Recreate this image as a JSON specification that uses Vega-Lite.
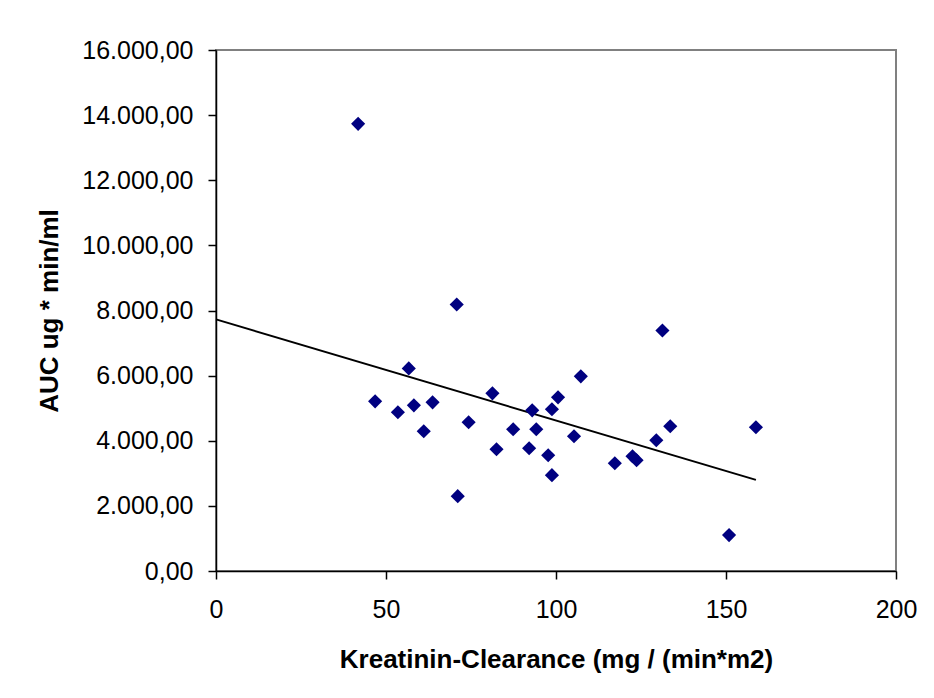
{
  "$schema": "https://vega.github.io/schema/vega-lite/v6.json",
  "width": 680,
  "height": 521,
  "autosize": {"type": "none"},
  "padding": {"left": 216, "top": 50, "right": 38, "bottom": 127},
  "background": "white",
  "config": {
    "locale": {"number": {"decimal": ",", "thousands": ".", "grouping": [3], "currency": ["", " €"]}},
    "font": "Liberation Sans",
    "view": {"stroke": "#808080", "strokeWidth": 2},
    "axis": {
      "grid": false,
      "labelFlush": false,
      "domainColor": "black",
      "domainWidth": 1.5,
      "tickColor": "black",
      "tickWidth": 1.5,
      "tickSize": 8,
      "labelFont": "Liberation Sans",
      "labelFontSize": 25,
      "labelColor": "black",
      "titleFont": "Liberation Sans",
      "titleFontSize": 26,
      "titleFontWeight": "bold",
      "titleColor": "black"
    }
  },
  "data": {
    "values": [
      {"clearance": 41.8, "auc": 13732},
      {"clearance": 46.8, "auc": 5211},
      {"clearance": 53.5, "auc": 4874},
      {"clearance": 56.7, "auc": 6222},
      {"clearance": 58.2, "auc": 5088},
      {"clearance": 61.1, "auc": 4291},
      {"clearance": 63.7, "auc": 5180},
      {"clearance": 70.8, "auc": 8184},
      {"clearance": 71.1, "auc": 2299},
      {"clearance": 74.3, "auc": 4567},
      {"clearance": 81.3, "auc": 5456},
      {"clearance": 82.5, "auc": 3739},
      {"clearance": 87.4, "auc": 4352},
      {"clearance": 92.1, "auc": 3770},
      {"clearance": 93.0, "auc": 4935},
      {"clearance": 94.2, "auc": 4352},
      {"clearance": 97.7, "auc": 3556},
      {"clearance": 98.8, "auc": 2943},
      {"clearance": 98.8, "auc": 4966},
      {"clearance": 100.6, "auc": 5333},
      {"clearance": 105.3, "auc": 4138},
      {"clearance": 107.3, "auc": 5977},
      {"clearance": 117.3, "auc": 3310},
      {"clearance": 122.5, "auc": 3525},
      {"clearance": 123.7, "auc": 3402},
      {"clearance": 129.5, "auc": 4015},
      {"clearance": 131.3, "auc": 7387},
      {"clearance": 133.6, "auc": 4444},
      {"clearance": 150.9, "auc": 1103},
      {"clearance": 158.8, "auc": 4414}
    ]
  },
  "encoding": {
    "x": {
      "field": "clearance",
      "type": "quantitative",
      "scale": {"domain": [0, 200], "nice": false, "zero": false},
      "axis": {"values": [0, 50, 100, 150, 200], "format": "d", "labelPadding": 18, "title": "Kreatinin-Clearance (mg / (min*m2)", "titlePadding": 24}
    },
    "y": {
      "field": "auc",
      "type": "quantitative",
      "scale": {"domain": [0, 16000], "nice": false},
      "axis": {"values": [0, 2000, 4000, 6000, 8000, 10000, 12000, 14000, 16000], "format": ",.2f", "labelPadding": 15, "title": "AUC ug * min/ml", "titlePadding": 19}
    }
  },
  "layer": [
    {
      "transform": [{"regression": "auc", "on": "clearance", "extent": [0, 158.8]}],
      "mark": {"type": "line", "color": "black", "strokeWidth": 2}
    },
    {
      "mark": {"type": "point", "shape": "diamond", "filled": true, "size": 200, "color": "#000080", "opacity": 1}
    }
  ]
}
